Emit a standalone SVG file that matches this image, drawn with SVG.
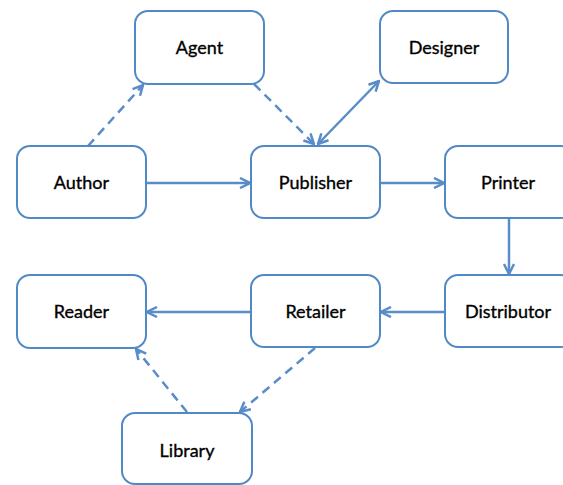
<svg xmlns="http://www.w3.org/2000/svg" width="563" height="485" viewBox="0 0 563 485">
<style>
.box{fill:#fff;stroke:#5189c6;stroke-width:2}
.lbl{font-family:Lato,"Open Sans","Liberation Sans",sans-serif;font-size:18px;fill:#000;stroke:#000;stroke-width:0.35;text-anchor:middle}
.c{fill:none;stroke:#5a8cc8;stroke-width:2.5}
.d{stroke-dasharray:9 6}
</style>
<defs>
<marker id="ah" viewBox="0 0 10 10" refX="9" refY="5" markerWidth="5" markerHeight="5" orient="auto-start-reverse" markerUnits="strokeWidth">
<path d="M1,1 L9,5 L1,9" fill="none" stroke="#5a8cc8" stroke-width="2"/>
</marker>
</defs>
<rect width="563" height="485" fill="#fff"/>
<g id="connectors">
<line class="c d" x1="88" y1="146" x2="143" y2="85" marker-end="url(#ah)"/>
<line class="c d" x1="254" y1="84" x2="314" y2="144" marker-end="url(#ah)"/>
<line class="c" x1="318" y1="144" x2="379" y2="81" marker-start="url(#ah)" marker-end="url(#ah)"/>
<line class="c" x1="147" y1="183" x2="250" y2="183" marker-end="url(#ah)"/>
<line class="c" x1="381" y1="183" x2="444" y2="183" marker-end="url(#ah)"/>
<line class="c" x1="509" y1="219" x2="509" y2="274" marker-end="url(#ah)"/>
<line class="c" x1="444" y1="312" x2="381" y2="312" marker-end="url(#ah)"/>
<line class="c" x1="250" y1="312" x2="147" y2="312" marker-end="url(#ah)"/>
<line class="c d" x1="187" y1="412" x2="136" y2="349" marker-end="url(#ah)"/>
<line class="c d" x1="315" y1="348" x2="240" y2="412" marker-end="url(#ah)"/>
</g>
<g id="agent"><rect class="box" x="135" y="11" width="129" height="73" rx="13"/><text class="lbl" x="199.5" y="54">Agent</text></g>
<g id="designer"><rect class="box" x="380" y="11" width="128" height="72" rx="13"/><text class="lbl" x="444" y="54">Designer</text></g>
<g id="author"><rect class="box" x="17" y="146" width="129" height="72" rx="13"/><text class="lbl" x="81.5" y="189">Author</text></g>
<g id="publisher"><rect class="box" x="251" y="146" width="129" height="72" rx="13"/><text class="lbl" x="315.5" y="189">Publisher</text></g>
<g id="printer"><rect class="box" x="445" y="146" width="129" height="72" rx="13"/><text class="lbl" x="508" y="189">Printer</text></g>
<g id="reader"><rect class="box" x="17" y="275" width="129" height="73" rx="13"/><text class="lbl" x="81.5" y="318">Reader</text></g>
<g id="retailer"><rect class="box" x="251" y="275" width="129" height="72" rx="13"/><text class="lbl" x="315.5" y="318">Retailer</text></g>
<g id="distributor"><rect class="box" x="445" y="275" width="129" height="72" rx="13"/><text class="lbl" x="508" y="318">Distributor</text></g>
<g id="library"><rect class="box" x="122" y="413" width="130" height="71" rx="13"/><text class="lbl" x="187" y="457">Library</text></g>
</svg>
